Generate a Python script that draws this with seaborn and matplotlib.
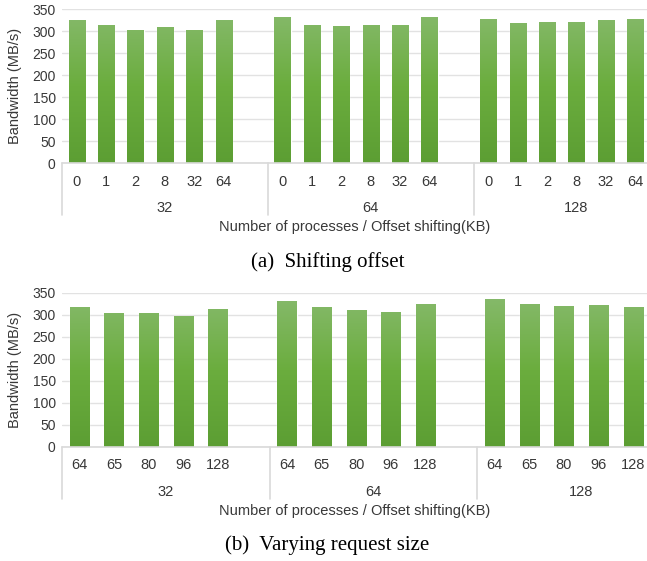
import numpy as np
import pandas as pd
import matplotlib
matplotlib.use("Agg")
import matplotlib.pyplot as plt
import seaborn as sns
from matplotlib.colors import LinearSegmentedColormap
from matplotlib.transforms import blended_transform_factory

# ---------------- data ----------------
procs = ["32", "64", "128"]

offsets_a = ["0", "1", "2", "8", "32", "64"]
bw_a_32 = [325, 314, 302, 309, 304, 325]
bw_a_64 = [332, 314, 312, 314, 314, 332]
bw_a_128 = [328, 319, 321, 321, 326, 328]

sizes_b = ["64", "65", "80", "96", "128"]
bw_b_32 = [318, 304, 304, 298, 313]
bw_b_64 = [331, 318, 311, 306, 324]
bw_b_128 = [336, 324, 320, 322, 318]

yticks = [0, 50, 100, 150, 200, 250, 300, 350]
ylabel = "Bandwidth (MB/s)"
xlabel = "Number of processes / Offset shifting(KB)"
caption_a = "(a)  Shifting offset"
caption_b = "(b)  Varying request size"

# ---------------- style ----------------
sns.set_theme(style="white")
plt.rcParams["font.family"] = ["Liberation Sans", "DejaVu Sans"]
TXT = "#383838"
GRID = "#E2E2E2"
SEP = "#D9D9D9"
cmap = LinearSegmentedColormap.from_list("g", ["#5C9E33", "#6BAD3E", "#87BA6D"])

fig = plt.figure(figsize=(6.47, 5.61), dpi=100)
W, H = 647, 561
ax_a = fig.add_axes([62 / W, 1 - 163.3 / H, 1 - 62 / W, 154 / H])
ax_b = fig.add_axes([62 / W, 1 - 446.7 / H, 1 - 62 / W, 154 / H])


def draw(ax, subcats, series, xright, caption):
    rows = []
    order = []
    for p, vals in zip(procs, series):
        for c, v in zip(subcats, vals):
            rows.append({"key": f"{p}|{c}", "bw": v})
            order.append(f"{p}|{c}")
        order.append(f"{p}|gap")
    df = pd.DataFrame(rows)
    sns.barplot(data=df, x="key", y="bw", order=order, color="#6BAD3E",
                saturation=1, width=0.55, ax=ax, zorder=2)
    grad = np.linspace(0, 1, 256).reshape(-1, 1)
    for patch in list(ax.patches):
        x0, w, h = patch.get_x(), patch.get_width(), patch.get_height()
        if not np.isfinite(h) or h == 0:
            continue
        im = ax.imshow(grad, extent=[x0, x0 + w, 0, 350], origin="lower",
                       aspect="auto", cmap=cmap, zorder=3)
        im.set_clip_path(patch)
    ax.set_xlim(-0.5, xright)
    ax.set_ylim(0, 350)
    ax.set_yticks(yticks)
    ax.set_yticklabels([str(t) for t in yticks], fontsize=10, color=TXT)
    ax.tick_params(axis="y", length=0, pad=4.5)
    ax.set_xticks([])
    ax.set_xlabel("")
    ax.set_ylabel("")
    for s in ax.spines.values():
        s.set_visible(False)
    ax.yaxis.grid(True, color=GRID, lw=1, zorder=0)
    ax.set_axisbelow(True)
    ax.axhline(0, color=SEP, lw=1.2, zorder=4, clip_on=False)

    tr = blended_transform_factory(ax.transData, ax.transAxes)
    n = len(subcats) + 1
    for g, p in enumerate(procs):
        base = g * n
        for i, c in enumerate(subcats):
            ax.text(base + i, -0.12, c, transform=tr, ha="center", va="center",
                    fontsize=10.5, color=TXT)
        ax.text(base + (n - 1) / 2, -0.292, p, transform=tr, ha="center",
                va="center", fontsize=10.5, color=TXT)
        ax.plot([base - 0.5, base - 0.5], [0, -0.338], transform=tr,
                color=SEP, lw=1.2, clip_on=False)
    ax.text(0.5, -0.416, xlabel, transform=ax.transAxes, ha="center",
            va="center", fontsize=10.5, color=TXT)
    ax.text(-47 / 585, 0.5, ylabel, transform=ax.transAxes, ha="center",
            va="center", rotation=90, fontsize=10.5, color=TXT)
    ax.text((W / 2 + 4 - 62) / 585, -0.639, caption, transform=ax.transAxes,
            ha="center", va="center", fontsize=15, color="black",
            family=["Liberation Serif", "DejaVu Serif"])


draw(ax_a, offsets_a, [bw_a_32, bw_a_64, bw_a_128], 19.4, caption_a)
draw(ax_b, sizes_b, [bw_b_32, bw_b_64, bw_b_128], 16.4, caption_b)

fig.savefig("out.png", dpi=100)
